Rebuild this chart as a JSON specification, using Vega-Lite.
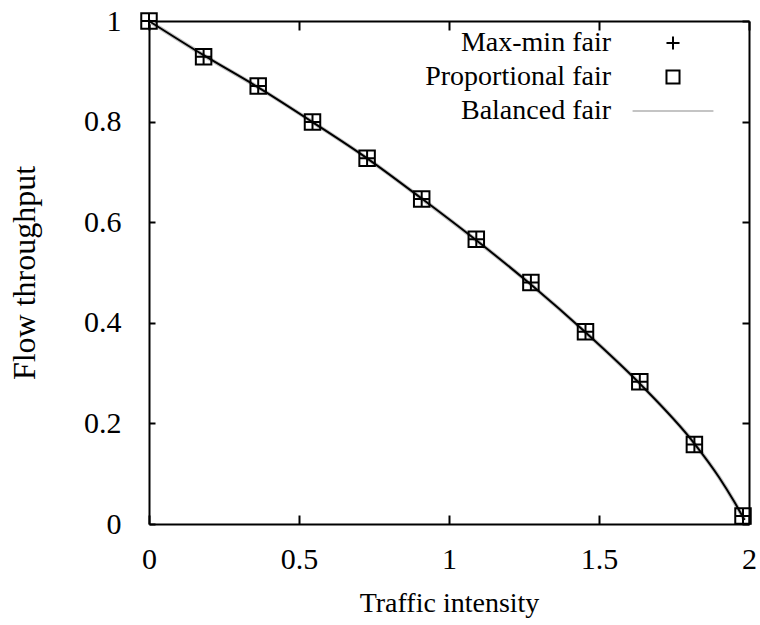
{
  "$schema": "https://vega.github.io/schema/vega-lite/v6.json",
  "width": 600,
  "height": 503,
  "autosize": "none",
  "padding": {"left": 149, "top": 21, "right": 11, "bottom": 101},
  "background": "white",
  "datasets": {
    "markers": [
      {"x": 0, "y": 1.0, "series": "Max-min fair"},
      {"x": 0.182, "y": 0.929, "series": "Max-min fair"},
      {"x": 0.364, "y": 0.871, "series": "Max-min fair"},
      {"x": 0.545, "y": 0.799, "series": "Max-min fair"},
      {"x": 0.727, "y": 0.727, "series": "Max-min fair"},
      {"x": 0.909, "y": 0.646, "series": "Max-min fair"},
      {"x": 1.091, "y": 0.566, "series": "Max-min fair"},
      {"x": 1.273, "y": 0.48, "series": "Max-min fair"},
      {"x": 1.455, "y": 0.382, "series": "Max-min fair"},
      {"x": 1.636, "y": 0.283, "series": "Max-min fair"},
      {"x": 1.818, "y": 0.158, "series": "Max-min fair"},
      {"x": 1.98, "y": 0.016, "series": "Max-min fair"},
      {"x": 0, "y": 1.0, "series": "Proportional fair"},
      {"x": 0.182, "y": 0.929, "series": "Proportional fair"},
      {"x": 0.364, "y": 0.871, "series": "Proportional fair"},
      {"x": 0.545, "y": 0.799, "series": "Proportional fair"},
      {"x": 0.727, "y": 0.727, "series": "Proportional fair"},
      {"x": 0.909, "y": 0.646, "series": "Proportional fair"},
      {"x": 1.091, "y": 0.566, "series": "Proportional fair"},
      {"x": 1.273, "y": 0.48, "series": "Proportional fair"},
      {"x": 1.455, "y": 0.382, "series": "Proportional fair"},
      {"x": 1.636, "y": 0.283, "series": "Proportional fair"},
      {"x": 1.818, "y": 0.158, "series": "Proportional fair"},
      {"x": 1.98, "y": 0.016, "series": "Proportional fair"}
    ],
    "curve": [
      {"x": 0, "y": 1.0, "series": "Balanced fair"},
      {"x": 0.182, "y": 0.932, "series": "Balanced fair"},
      {"x": 0.364, "y": 0.868, "series": "Balanced fair"},
      {"x": 0.545, "y": 0.799, "series": "Balanced fair"},
      {"x": 0.727, "y": 0.727, "series": "Balanced fair"},
      {"x": 0.909, "y": 0.647, "series": "Balanced fair"},
      {"x": 1.091, "y": 0.564, "series": "Balanced fair"},
      {"x": 1.273, "y": 0.476, "series": "Balanced fair"},
      {"x": 1.455, "y": 0.381, "series": "Balanced fair"},
      {"x": 1.636, "y": 0.279, "series": "Balanced fair"},
      {"x": 1.818, "y": 0.16, "series": "Balanced fair"},
      {"x": 1.9, "y": 0.093, "series": "Balanced fair"},
      {"x": 1.95, "y": 0.045, "series": "Balanced fair"},
      {"x": 1.985, "y": 0.008, "series": "Balanced fair"}
    ]
  },
  "config": {
    "font": "Liberation Serif",
    "view": {"stroke": null},
    "axis": {
      "grid": false,
      "domainColor": "black",
      "domainWidth": 2,
      "tickColor": "black",
      "tickWidth": 2,
      "labelColor": "black",
      "labelFont": "Liberation Serif",
      "labelFontSize": 30,
      "titleColor": "black",
      "titleFont": "Liberation Serif",
      "titleFontWeight": "normal"
    },
    "legend": {
      "labelFont": "Liberation Serif",
      "labelFontSize": 28,
      "labelColor": "black",
      "labelAlign": "right",
      "labelOffset": -76,
      "labelLimit": 0,
      "symbolSize": 170,
      "symbolStrokeWidth": 2,
      "rowPadding": 6,
      "padding": 0
    }
  },
  "layer": [
    {
      "data": {"name": "curve"},
      "mark": {"type": "line", "strokeWidth": 4, "color": "#c4c4c4", "interpolate": "monotone"},
      "encoding": {
        "x": {
          "field": "x", "type": "quantitative",
          "scale": {"domain": [0, 2], "nice": false, "zero": false},
          "axis": {
            "orient": "bottom", "values": [0, 0.5, 1, 1.5, 2],
            "labelExpr": "datum.value + ''",
            "tickSize": -9, "labelPadding": 29, "labelFlush": false,
            "title": "Traffic intensity", "titleFontSize": 28, "titlePadding": 15
          }
        },
        "y": {
          "field": "y", "type": "quantitative",
          "scale": {"domain": [0, 1], "nice": false, "zero": false},
          "axis": {
            "orient": "left", "values": [0, 0.2, 0.4, 0.6, 0.8, 1],
            "labelExpr": "datum.value + ''",
            "tickSize": -6, "labelPadding": 34, "labelFlush": false,
            "title": "Flow throughput", "titleFontSize": 32, "titlePadding": 42
          }
        }
      }
    },
    {
      "data": {"name": "curve"},
      "mark": {"type": "line", "strokeWidth": 2, "color": "black", "interpolate": "monotone"},
      "encoding": {
        "x": {"field": "x", "type": "quantitative", "axis": null},
        "y": {"field": "y", "type": "quantitative", "axis": null}
      }
    },
    {
      "data": {"name": "markers"},
      "mark": {"type": "point", "filled": false, "strokeWidth": 2, "size": 240, "opacity": 1},
      "encoding": {
        "x": {
          "field": "x", "type": "quantitative",
          "axis": {"orient": "top", "values": [0, 0.5, 1, 1.5, 2], "labels": false, "title": null, "tickSize": -9}
        },
        "y": {
          "field": "y", "type": "quantitative",
          "axis": {"orient": "right", "values": [0, 0.2, 0.4, 0.6, 0.8, 1], "labels": false, "title": null, "tickSize": -7}
        },
        "stroke": {
          "field": "series", "type": "nominal",
          "scale": {"domain": ["Max-min fair", "Proportional fair", "Balanced fair"], "range": ["black", "black", "#c4c4c4"]},
          "legend": {"title": null, "orient": "none", "legendX": 510, "legendY": 8}
        },
        "shape": {
          "field": "series", "type": "nominal",
          "scale": {"domain": ["Max-min fair", "Proportional fair", "Balanced fair"], "range": ["M-1,0H1M0,-1V1", "square", "M-6.2,0H6.2"]},
          "legend": {"title": null, "orient": "none", "legendX": 510, "legendY": 8}
        }
      }
    }
  ],
  "resolve": {"axis": {"x": "independent", "y": "independent"}}
}
